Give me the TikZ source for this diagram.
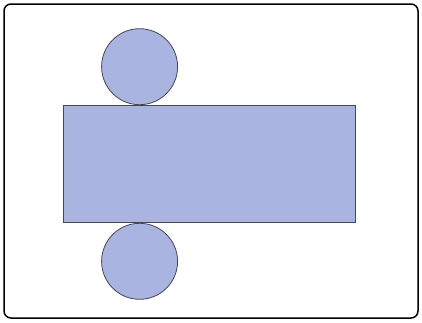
\documentclass[tikz,border=0pt]{standalone}
\usepackage{xcolor}
\usepackage{tikz}
\usetikzlibrary{positioning}

\definecolor{netfill}{RGB}{169,180,224}
\definecolor{netline}{RGB}{70,70,85}

\begin{document}
\begin{tikzpicture}[x=1pt, y=-1pt, node distance=0pt,
  face/.style={draw=netline, fill=netfill, line width=0.8pt, inner sep=0pt},
  lid/.style={face, circle, minimum size=76pt},
  side/.style={face, rectangle, minimum width=292pt, minimum height=117pt}]

  \useasboundingbox (0,0) rectangle (422,322);
  \draw [line width=1.5pt, rounded corners=7pt] (4,4) rectangle (418,318);

  \node [side] (side) at (209,164) {};
  \node [lid, above=of side.north west, anchor=south, xshift=77pt] (top) {};
  \node [lid, below=of side.south west, anchor=north, xshift=77pt] (bottom) {};
\end{tikzpicture}
\end{document}
